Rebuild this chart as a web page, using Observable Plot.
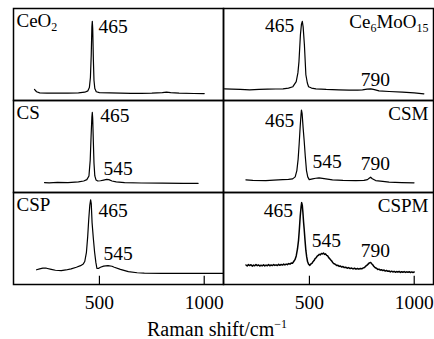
<!DOCTYPE html>
<html><head><meta charset="utf-8">
<script src="https://cdn.jsdelivr.net/npm/d3@7"></script>
<script src="https://cdn.jsdelivr.net/npm/@observablehq/plot@0.6"></script>
<style>
body{margin:0;background:#fff;overflow:hidden;}
#xlabel{width:434px;height:20px;text-align:center;font-family:"Liberation Serif",serif;font-size:20px;line-height:20px;padding-top:7px;color:#000;}
#xlabel .sup{font-size:12px;position:relative;top:-8px;}
</style></head>
<body><div id="chart"></div><div id="xlabel">Raman shift/cm<span class="sup">−1</span></div>
<script>
// Panels (name, grid column, grid row)
const panelNames = ["CeO2", "Ce6MoO15", "CS", "CSM", "CSP", "CSPM"];
const panelCol = ["L", "R", "L", "R", "L", "R"];
const panelRow = ["1", "1", "2", "2", "3", "3"];
const xTicks = [500, 1000];

// Spectra: [Raman shift (cm-1), relative intensity]
const ceo2 = [[190,12],[200,9.5],[215,8.3],[250,8],[300,8],[350,8],[400,8.3],[430,9],[445,10.5],[452,14],[457,25],[461,50],[464,80],[466,86],[468,78],[471,45],[474,22],[478,13],[485,9.5],[500,8.5],[550,8.2],[600,8],[650,7.8],[700,7.8],[750,8],[800,8.5],[820,9],[840,8.5],[880,8],[950,7.6],[1000,7.5]];
const ce6moo15 = [[95,12.7],[130,12.3],[170,12],[215,11.6],[260,12],[300,12.3],[340,12.5],[374,12.7],[400,13.5],[421,15],[437,20.6],[445,30],[450,42],[457,71.5],[462,83],[466,86],[470,80],[476,60.6],[483,28],[490,19],[496,15],[510,13.5],[531,12.7],[580,12],[640,11.5],[689,11.2],[730,11.3],[753,11.6],[775,12.3],[793,12.7],[810,11.8],[832,10.5],[880,9.8],[944,9],[1000,8.2],[1046,7.3]];
const cs = [[238,10.8],[260,10.5],[300,11],[350,10.8],[400,11.5],[425,12.5],[440,14],[450,18],[456,35],[460,60],[464,82],[466,87],[468,80],[471,55],[474,32],[478,18],[484,13.5],[492,12.5],[505,12.8],[520,13.5],[535,14.2],[545,14],[560,12.5],[580,11.5],[620,10.8],[700,10.3],[800,10.2],[900,10],[971,10]];
const csm = [[197,13.7],[230,13.2],[292,13],[330,13.5],[372,14],[400,14.2],[420,14.8],[432,17],[440,23.8],[446,36],[451,52.7],[456,72],[460,85],[462,89.6],[465,86],[470,70],[475,56],[480,40],[486,23.8],[492,17],[499,14],[515,14.8],[530,15.5],[546,15.9],[570,15],[610,13.7],[660,13.2],[721,13],[760,13.2],[777,14],[785,15.5],[792,16.6],[800,15],[816,13],[850,12],[880,11.2],[940,10.8],[999,10.5]];
const csp = [[200,16],[215,17],[230,17.8],[247,17.7],[270,16.5],[290,15.5],[318,15],[340,15.8],[365,17],[390,18.8],[410,20.5],[423,22.4],[430,25],[438,35],[444,52],[449,71],[454,86],[458,92],[461,88],[465,67],[471,50],[477,35],[483,24],[488,17.4],[495,17.5],[505,18.8],[520,20],[541,20.6],[560,19.8],[571,18.8],[600,16.5],[638,14],[680,12.8],[714,12.3],[800,12],[900,12],[1000,12],[1090,12]];
const cspm = [[197,21.2],[203,20.2],[209,21.6],[215,20.6],[221,21.5],[227,20],[233,21.1],[239,20.3],[245,21.7],[251,20.5],[257,21.3],[263,20.1],[269,21],[275,20.3],[281,21.5],[287,20.2],[293,21.1],[299,20.4],[305,21.6],[311,20.3],[317,21.3],[323,20.6],[329,21.7],[335,20.7],[341,21.4],[347,20.6],[353,21.9],[359,20.9],[365,21.8],[371,21.1],[377,22.2],[383,21.3],[389,22.2],[395,21.6],[401,22.7],[407,22.1],[413,23.3],[419,23],[425,25],[431,27],[437,31],[443,38.6],[448,48],[452,60],[456,74],[460,84],[463,89],[466,86],[469,78],[472,68],[475,60],[479,48],[483,37],[487,30],[491,25],[496,22],[502,20.8],[507,22.3],[512,23],[517,24.8],[522,26],[527,28.2],[532,29.1],[537,30.8],[542,31.6],[547,32.8],[552,32.2],[557,33.8],[562,33.2],[567,34.2],[572,32.7],[577,33.3],[582,31.7],[587,31.2],[592,29.2],[597,28],[602,26.6],[607,25.4],[612,23.6],[618,22.5],[624,21.9],[630,20.7],[636,20.9],[642,19.7],[648,20.1],[654,18.9],[660,19.6],[666,18.4],[673,18.8],[680,17.7],[687,18.4],[694,17.3],[701,17.9],[708,16.9],[715,17.7],[722,16.7],[729,17.4],[736,16.7],[743,17.5],[750,17.1],[757,18.1],[763,18.5],[769,20],[775,21],[781,22.4],[786,23.5],[792,24],[797,22.5],[802,21.5],[808,19.5],[814,18.2],[820,17.7],[826,16.4],[832,16.7],[838,15.6],[844,16.1],[850,15.1],[856,15.7],[862,14.6],[868,15.3],[874,14.3],[880,14.7],[886,13.7],[892,14.5],[898,13.6],[904,14.3],[910,13.3],[916,14.1],[922,13.4],[928,14.2],[934,13.1],[940,13.9],[946,13.3],[952,14],[958,13.1],[964,13.8],[970,13.2],[976,13.9],[982,13],[988,13.7],[994,13.1],[1000,13.5]];
const spectra = [ceo2, ce6moo15, cs, csm, csp, cspm];

// Peak labels: panel index, text, x, y, anchor
const peakPanel  = [0, 1, 1, 2, 2, 3, 3, 3, 4, 4, 5, 5, 5];
const peakText   = ["465","465","790","465","545","465","545","790","465","545","465","545","790"];
const peakLabelX = [495, 427, 745, 504, 519, 427, 515, 745, 495, 519, 422, 511, 745];
const peakLabelY = [80, 81, 23, 83, 26, 78, 33, 31.4, 80, 33.6, 80, 47.7, 36.8];
const peakAnchor = ["start","end","start","start","start","end","start","start","start","start","end","start","start"];

// build tables
const specRows = spectra.flatMap((s, i) => s.map(([x, y]) => ({panel: panelNames[i], col: panelCol[i], row: panelRow[i], x, y})));
const panelRows = panelNames.map((n, i) => ({name: n, col: panelCol[i], row: panelRow[i]}));
const peakRows = peakText.map((t, i) => ({t, x: peakLabelX[i], y: peakLabelY[i], anchor: peakAnchor[i], col: panelCol[peakPanel[i]], row: panelRow[peakPanel[i]]}));
const tickRows = ["L", "R"].flatMap(c => xTicks.map(x => ({x, col: c, row: "3"})));

const font = "'Liberation Serif', 'Times New Roman', serif";
const plot = Plot.plot({
  width: 434, height: 312,
  marginLeft: 12, marginRight: 1, marginTop: 7, marginBottom: 28,
  style: {fontFamily: font, fontSize: "19px", background: "white", color: "black"},
  fx: {domain: ["L", "R"], padding: 0, axis: null},
  fy: {domain: ["1", "2", "3"], padding: 0, axis: null},
  x: {domain: [90, 1092]},
  y: {domain: [0, 100], axis: null},
  marks: [
    Plot.frame({stroke: "black", strokeWidth: 1.5}),
    Plot.line(specRows, {x: "x", y: "y", z: "panel", fx: "col", fy: "row", stroke: "black", strokeWidth: d => d.panel === "CSPM" ? 1.5 : 1.2}),
    Plot.ruleX(tickRows, {x: "x", fx: "col", fy: "row", y1: 0, y2: 9, stroke: "black", strokeWidth: 1.2}),
    Plot.axisX({ticks: xTicks, tickFormat: d => String(d), tickSize: 0, tickPadding: 11, label: null, fontSize: 19.5, fontFamily: font}),
    Plot.text(peakRows.filter(d => d.anchor === "start"), {x: "x", y: "y", text: "t", fx: "col", fy: "row", textAnchor: "start", lineAnchor: "middle", fontSize: 19.5, fontFamily: font}),
    Plot.text(peakRows.filter(d => d.anchor === "end"), {x: "x", y: "y", text: "t", fx: "col", fy: "row", textAnchor: "end", lineAnchor: "middle", fontSize: 19.5, fontFamily: font}),
    Plot.text(panelRows.filter(d => d.col === "L"), {text: "name", fx: "col", fy: "row", frameAnchor: "top-left", textAnchor: "start", lineAnchor: "middle", dx: 3, dy: 12, fontSize: 19, fontFamily: font}),
    Plot.text(panelRows.filter(d => d.col === "R"), {text: "name", fx: "col", fy: "row", frameAnchor: "top-right", textAnchor: "end", lineAnchor: "middle", dx: -5, dy: 13, fontSize: 19, fontFamily: font})
  ]
});

// chemical subscripts
const subs = {"CeO2": [["CeO", 0], ["2", 1]], "Ce6MoO15": [["Ce", 0], ["6", 1], ["MoO", 0], ["15", 1]]};
d3.select(plot).selectAll("text").each(function () {
  const parts = subs[this.textContent];
  if (!parts) return;
  const t = d3.select(this).text(null);
  let shifted = false;
  for (const [s, sub] of parts) {
    const ts = t.append("tspan").text(s);
    if (sub && !shifted) { ts.attr("font-size", 12).attr("dy", 4); shifted = true; }
    else if (sub) ts.attr("font-size", 12);
    else if (!sub && shifted) { ts.attr("dy", -4); shifted = false; }
  }
});
document.getElementById("chart").appendChild(plot);
</script>
</body></html>
